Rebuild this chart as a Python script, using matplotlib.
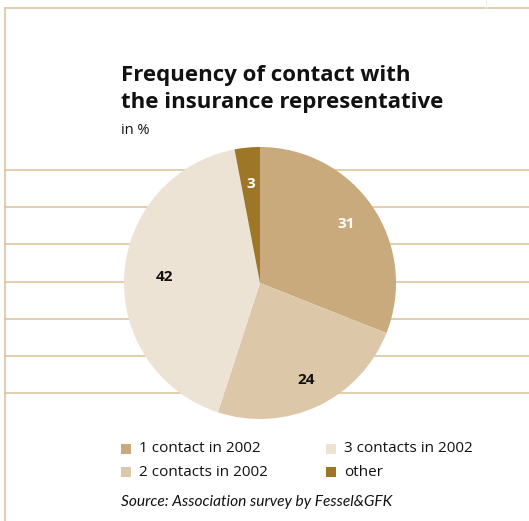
import matplotlib
matplotlib.use("Agg")
import matplotlib.pyplot as plt
from matplotlib.patches import Rectangle
import numpy as np

# survey shares, clockwise from 12 o'clock
categories = ["1 contact in 2002", "2 contacts in 2002", "3 contacts in 2002", "other"]
shares = [31, 24, 42, 3]
colors = ["#c8aa7d", "#dcc8a9", "#ece3d4", "#9e7628"]
label_colors = ["white", "#111111", "#111111", "white"]
label_radius = [0.77, 0.79, 0.70, 0.73]

title = "Frequency of contact with\nthe insurance representative"
unit = "in %"
source = "Source: Association survey by Fessel&GFK"

W, H = 529, 521
LINE = "#dcc6a3"
FONT = ["Open Sans", "DejaVu Sans"]

fig = plt.figure(figsize=(W / 100, H / 100), dpi=100)
bg = fig.add_axes([0, 0, 1, 1])
bg.set_xlim(0, W)
bg.set_ylim(H, 0)
bg.axis("off")

# frame and ruled background
bg.plot([5, 5], [8, H], color=LINE, lw=1.2)
bg.plot([5, W], [8, 8], color=LINE, lw=1.2)
bg.plot([486, 486], [0, 8], color="#eeeeee", lw=0.8)
for y in [170, 207, 244, 282, 319, 356, 393]:
    bg.plot([5, W], [y, y], color=LINE, lw=1.2)

bg.text(121, 65, title, fontsize=16, fontweight="bold", family=FONT,
        va="top", ha="left", linespacing=1.38, color="#111111")
bg.text(121, 130, unit, fontsize=10.5, family=FONT, va="center", ha="left",
        color="#111111")

# pie: centre (260, 283), radius 136 px
cx, cy, r = 260, 283, 136
pax = fig.add_axes([(cx - r) / W, (H - cy - r) / H, 2 * r / W, 2 * r / H])
wedges, _ = pax.pie(shares, colors=colors, startangle=90, counterclock=False,
                    radius=1, wedgeprops=dict(linewidth=0))
pax.set_xlim(-1, 1)
pax.set_ylim(-1, 1)
pax.set_aspect("equal")
pax.axis("off")

for w, v, c, d in zip(wedges, shares, label_colors, label_radius):
    ang = np.deg2rad((w.theta1 + w.theta2) / 2)
    pax.text(d * np.cos(ang), d * np.sin(ang), str(v), ha="center", va="center",
             fontsize=11, fontweight="bold", family=FONT, color=c)

# legend in two columns
legend_pos = [(121, 449), (121, 472), (326, 449), (326, 472)]
for (x, y), name, c in zip(legend_pos, categories, colors):
    bg.add_patch(Rectangle((x, y - 5), 10, 10, color=c, lw=0))
    bg.text(x + 18, y, name, fontsize=11, family=FONT, va="center", ha="left",
            color="#111111")

bg.text(121, 502, source, fontsize=11.2, style="italic",
        family=["Lato", "DejaVu Sans"],
        va="center", ha="left", color="#111111")

fig.savefig("out.png", dpi=100)
